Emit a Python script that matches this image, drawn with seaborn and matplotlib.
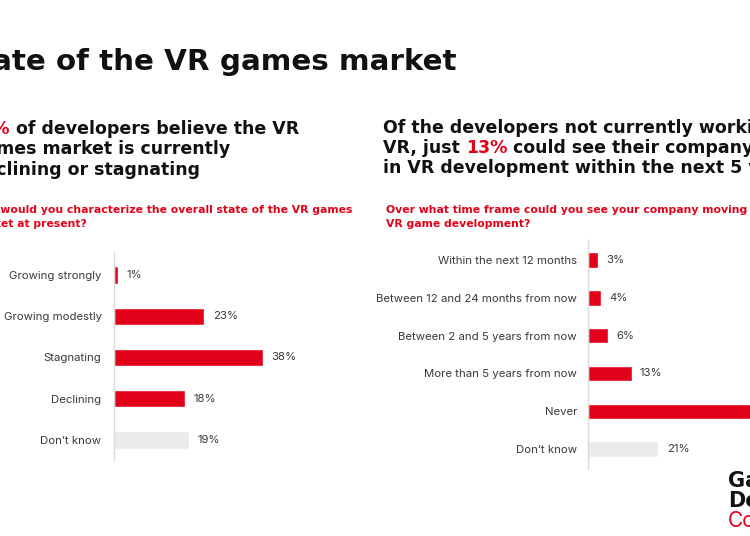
import matplotlib.pyplot as plt
import seaborn as sns
import pandas as pd

# Data
left_cats = ["Growing strongly", "Growing modestly", "Stagnating", "Declining", "Don’t know"]
left_vals = [1, 23, 38, 18, 19]
right_cats = ["Within the next 12 months", "Between 12 and 24 months from now",
              "Between 2 and 5 years from now", "More than 5 years from now", "Never", "Don’t know"]
right_vals = [3, 4, 6, 13, 53, 21]

RED = "#e2001a"
GREY = "#ebebeb"
DARK = "#111111"
LABEL = "#3a3a3a"
HEAD = ["DejaVu Sans"]

sns.set_theme(style="white")
plt.rcParams['font.family'] = ['Inter', 'DejaVu Sans']

W, H = 750, 536
fig = plt.figure(figsize=(7.5, 5.36), dpi=100)
fig.patch.set_facecolor("white")


def px_axes(x0, y0, x1, y1):
    return fig.add_axes([x0 / W, 1 - y1 / H, (x1 - x0) / W, (y1 - y0) / H])


def bar_panel(ax, cats, vals, xmax, ylim, pad, bw):
    df = pd.DataFrame({"cat": cats, "val": vals})
    colors = [GREY if c.startswith("Don") else RED for c in cats]
    sns.barplot(data=df, x="val", y="cat", hue="cat", palette=colors, legend=False,
                width=bw, saturation=1, ax=ax)
    ax.set_xlim(0, xmax)
    ax.set_ylim(*ylim)
    ax.set_xlabel("")
    ax.set_ylabel("")
    ax.set_xticks([])
    ax.tick_params(axis="y", length=0, pad=pad, labelsize=8.2, labelcolor=LABEL)
    for s in ["top", "right", "bottom"]:
        ax.spines[s].set_visible(False)
    ax.spines["left"].set_color("#d9d9d9")
    ax.spines["left"].set_linewidth(1)
    for cont in ax.containers:
        ax.bar_label(cont, fmt="%g%%", padding=6, fontsize=8.2, color=LABEL)
    ax.patch.set_alpha(0)


# Left chart
axl = px_axes(114, 253, 114 + 3.93 * 60, 460)
bar_panel(axl, left_cats, left_vals, 60, (4.485, -0.533), 9, 0.42)

# Right chart
axr = px_axes(588, 240, 588 + 3.35 * 60, 468)
bar_panel(axr, right_cats, right_vals, 60, (5.5, -0.53), 8, 0.41)

# Text overlay in pixel coordinates
ov = fig.add_axes([0, 0, 1, 1])
ov.set_xlim(0, W)
ov.set_ylim(H, 0)
ov.axis("off")

ov.text(-43, 70, "State of the VR games market", fontsize=21.2, fontweight="bold",
        color=DARK, va="baseline", family=HEAD)

hs = 12.5
t = ov.text(-31, 134, "56%", fontsize=hs, fontweight="bold", color=RED, va="baseline", family=HEAD)
ov.annotate(" of developers believe the VR", xy=(1, 0), xycoords=t, va="bottom",
            fontsize=hs, fontweight="bold", color=DARK, family=HEAD)
ov.text(-28, 154.5, "games market is currently", fontsize=hs, fontweight="bold", color=DARK,
        va="baseline", family=HEAD)
ov.text(-28, 175, "declining or stagnating", fontsize=hs, fontweight="bold", color=DARK,
        va="baseline", family=HEAD)

ss = 7.8
ov.text(-30, 213, "How would you characterize the overall state of the VR games",
        fontsize=ss, fontweight="bold", color=RED, va="baseline", family=HEAD)
ov.text(-30, 227, "market at present?", fontsize=ss, fontweight="bold", color=RED,
        va="baseline", family=HEAD)

ov.text(383, 133, "Of the developers not currently working in", fontsize=hs, fontweight="bold",
        color=DARK, va="baseline", family=HEAD)
t1 = ov.text(383, 153, "VR, just ", fontsize=hs, fontweight="bold", color=DARK, va="baseline", family=HEAD)
t2 = ov.annotate("13%", xy=(1, 0), xycoords=t1, va="bottom", fontsize=hs, fontweight="bold",
                 color=RED, family=HEAD)
ov.annotate(" could see their company moving", xy=(1, 0), xycoords=t2, va="bottom",
            fontsize=hs, fontweight="bold", color=DARK, family=HEAD)
ov.text(383, 173, "in VR development within the next 5 years", fontsize=hs, fontweight="bold",
        color=DARK, va="baseline", family=HEAD)

ov.text(386, 213, "Over what time frame could you see your company moving into",
        fontsize=ss, fontweight="bold", color=RED, va="baseline", family=HEAD)
ov.text(386, 227, "VR game development?", fontsize=ss, fontweight="bold", color=RED,
        va="baseline", family=HEAD)

# Logo
ov.text(728, 487, "Game", fontsize=15, fontweight="bold", color=DARK, va="baseline", family=HEAD)
ov.text(728, 507, "Developers", fontsize=15, fontweight="bold", color=DARK, va="baseline", family=HEAD)
ov.text(728, 527, "Conference", fontsize=15, color=RED, va="baseline")

fig.savefig("out.png", dpi=100)
